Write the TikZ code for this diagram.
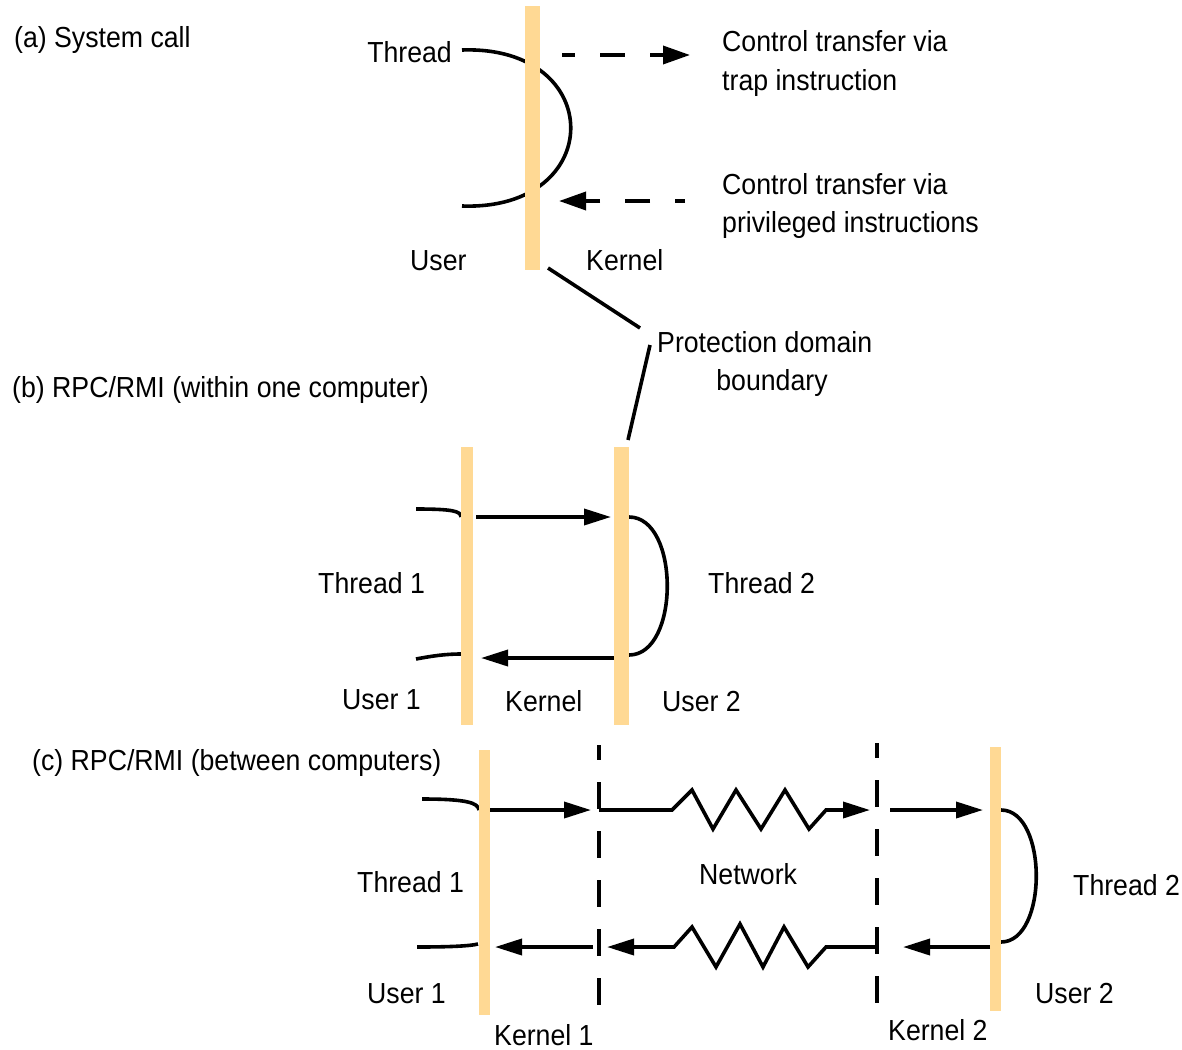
\documentclass[tikz,border=0pt]{standalone}
\usepackage{fontspec}
\setmainfont[FakeStretch=0.92]{Liberation Sans}
\usetikzlibrary{arrows.meta}
\definecolor{barcol}{RGB}{255,217,148}
\begin{document}
\begin{tikzpicture}[x=1pt,y=-1pt,
  lbl/.style={anchor=base west,inner sep=0pt,font=\fontsize{29}{35}\selectfont},
  wire/.style={line width=3.6pt},
  tip/.style={-{Triangle[length=27pt,width=16pt]}},
  dtip/.style={-{Triangle[length=27pt,width=18pt]}},
  bar/.style={fill=barcol,draw=none,inner sep=0pt},
  vdash/.style={line width=3.6pt,dash pattern=on 27pt off 22pt,dash phase=12pt}
]
\fill[white] (0,0) rectangle (1182,1049);
\useasboundingbox (0,0) rectangle (1182,1049);

% ---------- (a) ----------
\coordinate (a1) at (462,50);
\coordinate (a2) at (462,206);
\draw[wire] (a1) .. controls (607,45) and (607,211) .. (a2);
\node[bar,minimum width=15pt,minimum height=264pt] (barA) at (532.5,138) {};
\coordinate (d1s) at (562,55);
\coordinate (d1e) at (690,55);
\draw[wire,dtip,dash pattern=on 25pt off 25pt,dash phase=12pt] (d1s) -- (d1e);
\coordinate (d2s) at (685,201);
\coordinate (d2e) at (559,201);
\draw[wire,dtip,dash pattern=on 25pt off 25pt,dash phase=15pt] (d2s) -- (d2e);

\node[lbl] (ta) at (14,48) {(a) System call};
\node[lbl,anchor=base east] (thr) at (452,63) {Thread};
\node[lbl] (ct1) at (722,52) {Control transfer via};
\node[lbl] (ct1b) at (722,90) {trap instruction};
\node[lbl] (ct2) at (722,194) {Control transfer via};
\node[lbl] (ct2b) at (722,232) {privileged instructions};
\node[lbl] (usr) at (410,270) {User};
\node[lbl] (ker) at (586,270) {Kernel};
\node[lbl] (pdb) at (657,352) {Protection domain};
\node[lbl,anchor=base] (pdb2) at (772,390) {boundary};

\coordinate (p1) at (548,268);
\coordinate (p2) at (640,328);
\coordinate (p3) at (650,345);
\coordinate (p4) at (628,440);
\draw[wire] (p1) -- (p2);
\draw[wire] (p3) -- (p4);

% ---------- (b) ----------
\node[lbl] (tb) at (12,397) {(b) RPC/RMI (within one computer)};
\coordinate (b1) at (416,509);
\coordinate (b2) at (461,517);
\draw[wire] (b1) .. controls (452,509) and (461,511) .. (b2);
\coordinate (b3) at (416,659);
\coordinate (b4) at (461,654);
\draw[wire] (b3) .. controls (432,656) and (445,654) .. (b4);
\coordinate (b5) at (629,517);
\coordinate (b6) at (629,655);
\draw[wire] (b5) .. controls (680,517) and (680,655) .. (b6);
\node[bar,minimum width=12pt,minimum height=278pt] (barB1) at (467,586) {};
\node[bar,minimum width=15pt,minimum height=278pt] (barB2) at (621.5,586) {};
\coordinate (b7) at (476,517);
\coordinate (b8) at (611,517);
\draw[wire,tip] (b7) -- (b8);
\coordinate (b9) at (614,658);
\coordinate (b10) at (481,658);
\draw[wire,tip] (b9) -- (b10);

\node[lbl] (bt1) at (318,593) {Thread 1};
\node[lbl] (bt2) at (708,593) {Thread 2};
\node[lbl] (bu1) at (342,709) {User 1};
\node[lbl] (bk) at (505,711) {Kernel};
\node[lbl] (bu2) at (662,711) {User 2};

% ---------- (c) ----------
\node[lbl] (tc) at (32,770) {(c) RPC/RMI (between computers)};
\coordinate (k1t) at (599,745);
\coordinate (k1b) at (599,1015);
\draw[vdash] (k1t) -- (k1b);
\coordinate (k2t) at (877,743);
\coordinate (k2b) at (877,1013);
\draw[vdash] (k2t) -- (k2b);

\coordinate (c1) at (422,799);
\coordinate (c2) at (479,810);
\draw[wire] (c1) .. controls (468,799) and (478,803) .. (c2);
\coordinate (c3) at (417,947);
\coordinate (c4) at (478,944);
\draw[wire] (c3) .. controls (450,947) and (470,946) .. (c4);
\coordinate (c5) at (1001,810);
\coordinate (c6) at (1001,942);
\draw[wire] (c5) .. controls (1048,810) and (1048,942) .. (c6);
\node[bar,minimum width=11pt,minimum height=265pt] (barC1) at (484.5,882.5) {};
\node[bar,minimum width=11pt,minimum height=264pt] (barC2) at (995.5,879) {};

% top row
\coordinate (t1) at (490,810);
\coordinate (t2) at (591,810);
\draw[wire,tip] (t1) -- (t2);
\coordinate (t3) at (599,810);
\coordinate (t4) at (870,810);
\draw[wire,tip] (t3) -- (672,810) -- (692,790) -- (713,829) -- (736,790) -- (761,829)
  -- (785,790) -- (809,829) -- (826,810) -- (t4);
\coordinate (t5) at (890,810);
\coordinate (t6) at (983,810);
\draw[wire,tip] (t5) -- (t6);

% bottom row
\coordinate (u1) at (990,947);
\coordinate (u2) at (903,947);
\draw[wire,tip] (u1) -- (u2);
\coordinate (u3) at (877,947);
\coordinate (u4) at (607,947);
\draw[wire,tip] (u3) -- (826,947) -- (808,967) -- (784,927) -- (763,967) -- (740,924)
  -- (716,967) -- (692,927) -- (674,947) -- (u4);
\coordinate (u5) at (593,947);
\coordinate (u6) at (495,947);
\draw[wire,tip] (u5) -- (u6);

\node[lbl] (ct1l) at (357,892) {Thread 1};
\node[lbl] (cu1) at (367,1003) {User 1};
\node[lbl] (net) at (699,884) {Network};
\node[lbl] (ck1) at (494,1045) {Kernel 1};
\node[lbl] (ck2) at (888,1040) {Kernel 2};
\node[lbl] (ct2l) at (1073,895) {Thread 2};
\node[lbl] (cu2) at (1035,1003) {User 2};
\end{tikzpicture}
\end{document}
